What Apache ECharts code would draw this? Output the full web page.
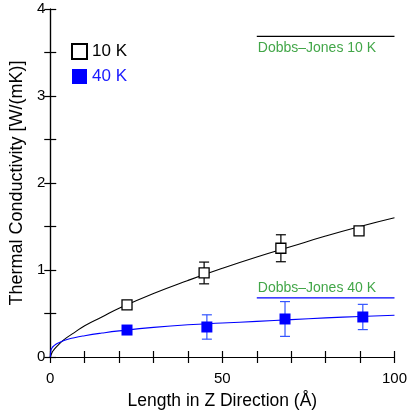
<!DOCTYPE html>
<html><head><meta charset="utf-8">
<script src="https://cdn.jsdelivr.net/npm/echarts@6/dist/echarts.min.js"></script>
<style>html,body{margin:0;padding:0;background:#fff}#c{width:410px;height:417px}</style>
</head><body><div id="c"></div>
<script>
// Measured data points
const x10 = [22.3, 44.7, 67.0, 89.7];
const y10 = [0.60, 0.966, 1.25, 1.45];
const e10 = [0.02, 0.125, 0.155, 0.03];
const x40 = [22.3, 45.5, 68.2, 90.8];
const y40 = [0.31, 0.345, 0.437, 0.46];
const e40 = [0.02, 0.14, 0.20, 0.145];
// Fit curves
const fitX10 = [0, 0.5, 1, 2, 4, 7, 10, 15, 20, 30, 40, 50, 60, 70, 80, 90, 100];
const fitY10 = [0, 0.05, 0.08, 0.125, 0.20, 0.28, 0.36, 0.46, 0.56, 0.73, 0.88, 1.02, 1.15, 1.27, 1.39, 1.50, 1.60];
const fitX40 = [0, 0.2, 0.5, 1, 2, 4, 7, 10, 15, 20, 30, 40, 50, 60, 70, 80, 90, 100];
const fitY40 = [0, 0.079, 0.103, 0.126, 0.154, 0.19, 0.222, 0.245, 0.275, 0.30, 0.34, 0.37, 0.39, 0.41, 0.43, 0.45, 0.465, 0.48];
// Dobbs-Jones reference levels
const djX = [60, 100];
const dj10 = 3.685;
const dj40 = 0.68;
const djLabels = ['Dobbs–Jones 10 K', 'Dobbs–Jones 40 K'];
const seriesNames = ['10 K', '40 K'];
const xTickLabels = [0, 50, 100];
const yTickLabels = [0, 1, 2, 3, 4];

const FONT = 'Liberation Sans, Arial, sans-serif';
const GREEN = '#13901a';
const chart = echarts.init(document.getElementById('c'));
const pairs = (xs, ys) => xs.map((x, i) => [x, ys[i]]);
const errData = (xs, ys, es) => xs.map((x, i) => [x, ys[i] - es[i], ys[i] + es[i]]);
function errRender(color) {
  return function (params, api) {
    const x = api.value(0);
    const lo = api.coord([x, api.value(1)]);
    const hi = api.coord([x, api.value(2)]);
    const w = 5;
    const style = { stroke: color, lineWidth: 1.2 };
    return { type: 'group', children: [
      { type: 'line', shape: { x1: lo[0], y1: lo[1], x2: hi[0], y2: hi[1] }, style },
      { type: 'line', shape: { x1: lo[0] - w, y1: lo[1], x2: lo[0] + w, y2: lo[1] }, style },
      { type: 'line', shape: { x1: hi[0] - w, y1: hi[1], x2: hi[0] + w, y2: hi[1] }, style }
    ]};
  };
}
const axisLine = { show: true, lineStyle: { color: '#000', width: 1.2 } };
const tick = { inside: true, length: 6, lineStyle: { color: '#000', width: 1.2 } };
chart.setOption({
  animation: false,
  grid: { left: 49, right: 12, top: 9, bottom: 60 },
  legend: {
    orient: 'vertical', left: 66, top: 38, itemWidth: 15, itemHeight: 15, itemGap: 8,
    textStyle: { fontFamily: FONT, fontSize: 17 },
    data: [
      { name: seriesNames[0], icon: 'rect', textStyle: { color: '#000' } },
      { name: seriesNames[1], icon: 'rect', textStyle: { color: '#1a1aff' } }
    ]
  },
  xAxis: [
    { type: 'value', min: 0, max: 100, interval: 10, position: 'bottom',
      axisLine, splitLine: { show: false }, axisTick: tick,
      axisLabel: { margin: 14, fontFamily: FONT, fontSize: 15, color: '#000',
        formatter: v => xTickLabels.includes(v) ? String(v) : '' },
      name: 'Length in Z Direction (Å)', nameLocation: 'middle', nameGap: 35,
      nameTextStyle: { fontFamily: FONT, fontSize: 17.5, color: '#000' } },
    { type: 'value', min: 0, max: 100, interval: 10, position: 'top',
      axisLine, splitLine: { show: false }, axisTick: tick,
      axisLabel: { show: false } }
  ],
  yAxis: [
    { type: 'value', min: 0, max: 4, interval: 0.5, position: 'left',
      axisLine, splitLine: { show: false }, axisTick: tick,
      axisLabel: { margin: 5, fontFamily: FONT, fontSize: 15, color: '#000',
        formatter: v => yTickLabels.includes(v) ? String(v) : '' },
      name: 'Thermal Conductivity [W/(mK)]', nameLocation: 'middle', nameGap: 23,
      nameTextStyle: { fontFamily: FONT, fontSize: 18, color: '#000' } },
    { type: 'value', min: 0, max: 4, interval: 0.5, position: 'right',
      axisLine, splitLine: { show: false }, axisTick: tick,
      axisLabel: { show: false } }
  ],
  series: [
    { type: 'line', data: pairs(fitX10, fitY10), smooth: true, showSymbol: false, silent: true,
      lineStyle: { color: '#000', width: 1.1 }, z: 2 },
    { type: 'line', data: pairs(fitX40, fitY40), smooth: true, showSymbol: false, silent: true,
      lineStyle: { color: '#0000ff', width: 1.1 }, z: 2 },
    { type: 'custom', data: errData(x10, y10, e10), renderItem: errRender('#000'), z: 3 },
    { type: 'custom', data: errData(x40, y40, e40), renderItem: errRender('#3355ff'), z: 3 },
    { name: seriesNames[0], type: 'scatter', data: pairs(x10, y10), symbol: 'rect', symbolSize: 10,
      itemStyle: { color: '#fff', borderColor: '#000', borderWidth: 1.3, opacity: 1 }, z: 5 },
    { name: seriesNames[1], type: 'scatter', data: pairs(x40, y40), symbol: 'rect', symbolSize: 11,
      itemStyle: { color: '#0000ff', borderColor: '#0000ff', borderWidth: 0, opacity: 1 }, z: 5 },
    { type: 'line', data: djX.map(x => [x, dj10]), showSymbol: false, silent: true,
      lineStyle: { color: '#000', width: 1.2 } },
    { type: 'line', data: djX.map(x => [x, dj40]), showSymbol: false, silent: true,
      lineStyle: { color: '#0000ff', width: 1.2 } },
    { type: 'scatter', symbolSize: 0, silent: true,
      data: [{ value: [djX[0], dj10], label: { show: true, position: 'right', offset: [-4, 12],
        formatter: djLabels[0], color: GREEN, fontFamily: FONT, fontSize: 14 } },
        { value: [djX[0], dj40], label: { show: true, position: 'right', offset: [-4, -10],
        formatter: djLabels[1], color: GREEN, fontFamily: FONT, fontSize: 14 } }] }
  ]
});
</script></body></html>
